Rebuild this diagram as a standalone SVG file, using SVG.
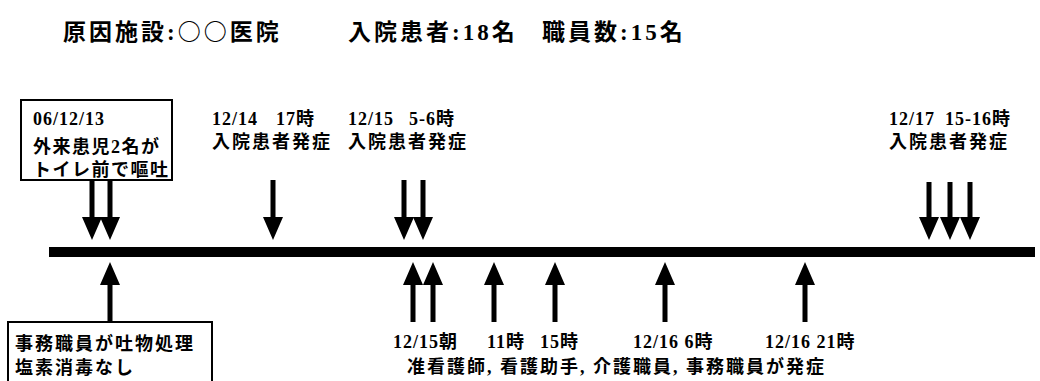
<svg xmlns="http://www.w3.org/2000/svg" width="1040" height="381" viewBox="0 0 1040 381">
<style>
text{font-family:"Liberation Serif","Noto Sans CJK JP",serif;font-weight:bold;fill:#000}
.t{font-size:23px;letter-spacing:3px}
.l{font-size:18px;letter-spacing:1px}
.c{letter-spacing:2px}
.b{letter-spacing:1.5px}
.cjk{font-family:"Noto Sans CJK JP",sans-serif}
.box{fill:#fff;stroke:#000;stroke-width:2}
.arr{fill:#000}
</style>
<rect width="1040" height="381" fill="#fff"/>
<g id="title">
<text class="t" x="63" y="40">原因施設:<tspan class="cjk">○○</tspan>医院</text>
<text class="t" x="348" y="40">入院患者:18名</text>
<text class="t" x="542" y="40">職員数:15名</text>
</g>
<g id="timeline"><rect x="49" y="247" width="986" height="10" fill="#000"/></g>
<g id="box-outpatient">
<rect class="box" x="21" y="100" width="151" height="80"/>
<text class="l" x="33" y="125">06/12/13</text>
<text class="l b" x="33" y="153">外来患児2名が</text>
<text class="l b" x="33" y="176">トイレ前で嘔吐</text>
</g>
<g id="box-staff">
<rect class="box" x="8" y="322" width="204" height="70"/>
<text class="l c" x="15" y="350">事務職員が吐物処理</text>
<text class="l c" x="15" y="374">塩素消毒なし</text>
</g>
<g id="label-1214"><text class="l" y="125"><tspan x="212">12/14</tspan><tspan x="276">17時</tspan></text><text class="l c" x="212" y="148">入院患者発症</text></g>
<g id="label-1215"><text class="l" y="125"><tspan x="348">12/15</tspan><tspan x="409">5-6時</tspan></text><text class="l c" x="348" y="148">入院患者発症</text></g>
<g id="label-1217"><text class="l" y="125"><tspan x="889">12/17</tspan><tspan x="945">15-16時</tspan></text><text class="l c" x="889" y="148">入院患者発症</text></g>
<g id="label-staff">
<text class="l" x="393" y="348">12/15朝</text>
<text class="l" x="487" y="348">11時</text>
<text class="l" x="540" y="348">15時</text>
<text class="l" x="633" y="348">12/16 6時</text>
<text class="l" x="765" y="348">12/16 21時</text>
<text class="l c" x="407" y="373">准看護師, 看護助手, 介護職員, 事務職員が発症</text>
</g>
<g id="connectors" class="arr">
<path d="M89.5 180h5v37h7.5l-10 23l-10-23h7.5z"/>
<path d="M107.5 180h5v37h7.5l-10 23l-10-23h7.5z"/>
<path d="M270.5 180h5v37h7.5l-10 23l-10-23h7.5z"/>
<path d="M401.5 180h5v37h7.5l-10 23l-10-23h7.5z"/>
<path d="M420.5 180h5v37h7.5l-10 23l-10-23h7.5z"/>
<path d="M926.5 182h5v35h7.5l-10 23l-10-23h7.5z"/>
<path d="M947.5 182h5v35h7.5l-10 23l-10-23h7.5z"/>
<path d="M967.5 182h5v35h7.5l-10 23l-10-23h7.5z"/>
<path d="M107.5 322h5v-37h7.5l-10-23l-10 23h7.5z"/>
<path d="M410.5 322h5v-37h7.5l-10-23l-10 23h7.5z"/>
<path d="M430.5 322h5v-37h7.5l-10-23l-10 23h7.5z"/>
<path d="M491.5 322h5v-37h7.5l-10-23l-10 23h7.5z"/>
<path d="M552.5 322h5v-37h7.5l-10-23l-10 23h7.5z"/>
<path d="M662.5 322h5v-37h7.5l-10-23l-10 23h7.5z"/>
<path d="M802.5 322h5v-37h7.5l-10-23l-10 23h7.5z"/>
</g>
</svg>
